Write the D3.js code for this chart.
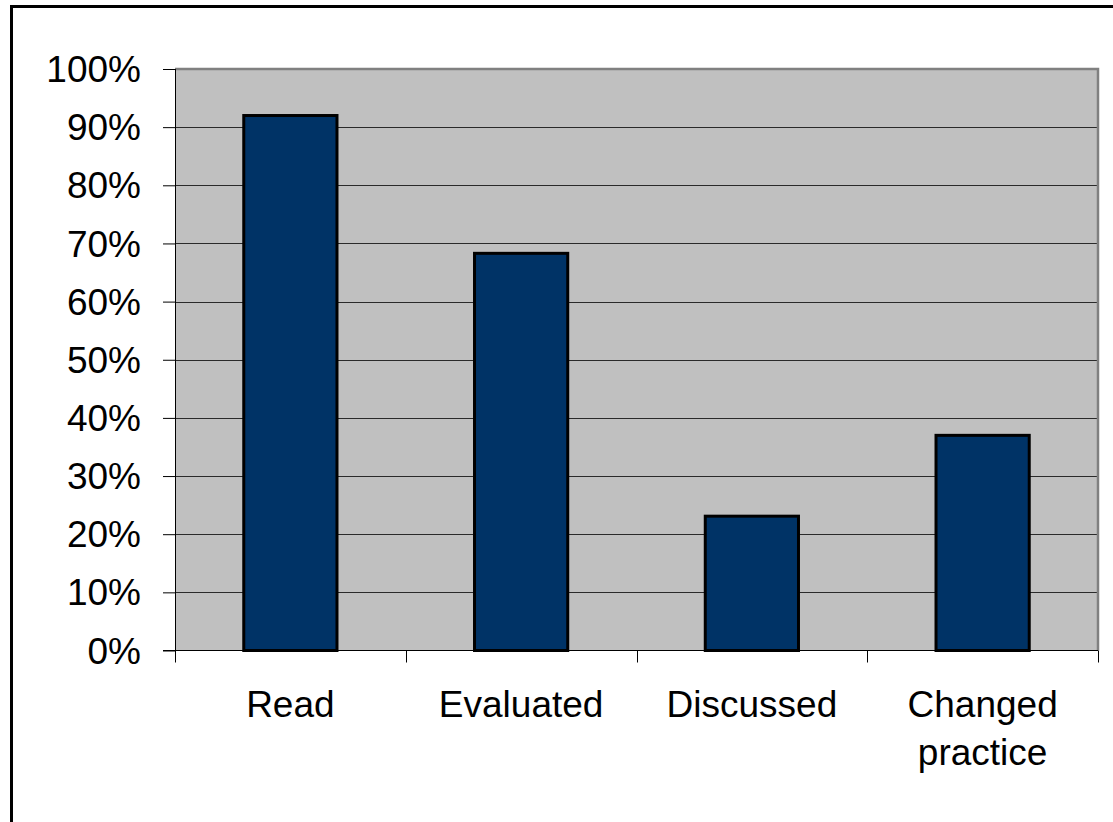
<!DOCTYPE html>
<html>
<head>
<meta charset="utf-8">
<script src="https://cdn.jsdelivr.net/npm/d3@7"></script>
<style>
  html, body { margin: 0; padding: 0; background: #fff; }
  svg { display: block; }
  text { font-family: "Liberation Sans", Arial, sans-serif; fill: #000; }
</style>
</head>
<body>
<svg id="chart" width="1113" height="822"></svg>
<script>
// Share of respondents for each action
const categories = [["Read"], ["Evaluated"], ["Discussed"], ["Changed", "practice"]];
const values = [0.92, 0.683, 0.231, 0.37];
const yTicks = [0, 0.1, 0.2, 0.3, 0.4, 0.5, 0.6, 0.7, 0.8, 0.9, 1.0];

const svg = d3.select("#chart");
const plot = { left: 175, right: 1098, top: 69, bottom: 650.5 };
const fontSize = 37;

// outer frame
svg.append("rect")
  .attr("x", 11.5).attr("y", 6.5)
  .attr("width", 1130).attr("height", 840)
  .attr("fill", "none").attr("stroke", "#000").attr("stroke-width", 3);

const x = d3.scaleBand()
  .domain(d3.range(categories.length))
  .range([plot.left, plot.right])
  .padding(0);

const y = d3.scaleLinear().domain([0, 1]).range([plot.bottom, plot.top]);

// plot background
svg.append("rect")
  .attr("x", plot.left).attr("y", plot.top)
  .attr("width", plot.right - plot.left).attr("height", plot.bottom - plot.top)
  .attr("fill", "#c0c0c0");

// horizontal gridlines
svg.append("g").selectAll("line")
  .data(yTicks.filter(d => d > 0 && d < 1))
  .join("line")
  .attr("x1", plot.left).attr("x2", plot.right)
  .attr("y1", d => Math.round(y(d)) + 0.5).attr("y2", d => Math.round(y(d)) + 0.5)
  .attr("stroke", "#2a2a2a").attr("stroke-width", 1);

// plot border (top and right)
svg.append("path")
  .attr("d", `M${plot.left},${plot.top} H${plot.right} V${plot.bottom}`)
  .attr("fill", "none").attr("stroke", "#808080").attr("stroke-width", 2.5);

// bars
const barW = x.bandwidth() * 0.404;
svg.append("g").selectAll("rect")
  .data(values)
  .join("rect")
  .attr("x", (d, i) => x(i) + (x.bandwidth() - barW) / 2)
  .attr("y", d => y(d))
  .attr("width", barW)
  .attr("height", d => y(0) - y(d))
  .attr("fill", "#003366")
  .attr("stroke", "#000").attr("stroke-width", 3);

// y axis
const yAxis = d3.axisLeft(y)
  .tickValues(yTicks)
  .tickFormat(d3.format(".0%"))
  .tickSize(12)
  .tickPadding(22);
const gy = svg.append("g")
  .attr("transform", `translate(${plot.left},0)`)
  .call(yAxis);
gy.select(".domain").attr("stroke", "#000").attr("d", `M0.5,${plot.top}V${plot.bottom}`);
gy.selectAll(".tick line").attr("stroke", "#000");
gy.selectAll(".tick text")
  .attr("font-size", fontSize)
  .attr("font-family", '"Liberation Sans", Arial, sans-serif')
  .attr("dy", "0.34em");

// x axis baseline
svg.append("line")
  .attr("x1", plot.left - 12).attr("x2", plot.right)
  .attr("y1", plot.bottom).attr("y2", plot.bottom)
  .attr("stroke", "#000").attr("stroke-width", 1);

// category boundary ticks
const boundaries = d3.range(categories.length + 1).map(i => plot.left + i * x.step());
svg.append("g").selectAll("line")
  .data(boundaries)
  .join("line")
  .attr("x1", d => Math.round(d) + 0.5).attr("x2", d => Math.round(d) + 0.5)
  .attr("y1", plot.bottom).attr("y2", plot.bottom + 12)
  .attr("stroke", "#000").attr("stroke-width", 1);

// category labels
const labels = svg.append("g").selectAll("text")
  .data(categories)
  .join("text")
  .attr("text-anchor", "middle")
  .attr("font-size", fontSize)
  .attr("x", (d, i) => x(i) + x.bandwidth() / 2)
  .attr("y", 717);
labels.selectAll("tspan")
  .data(d => d)
  .join("tspan")
  .attr("x", function () { return d3.select(this.parentNode).attr("x"); })
  .attr("dy", (d, i) => i === 0 ? 0 : 48)
  .text(d => d);
</script>
</body>
</html>
